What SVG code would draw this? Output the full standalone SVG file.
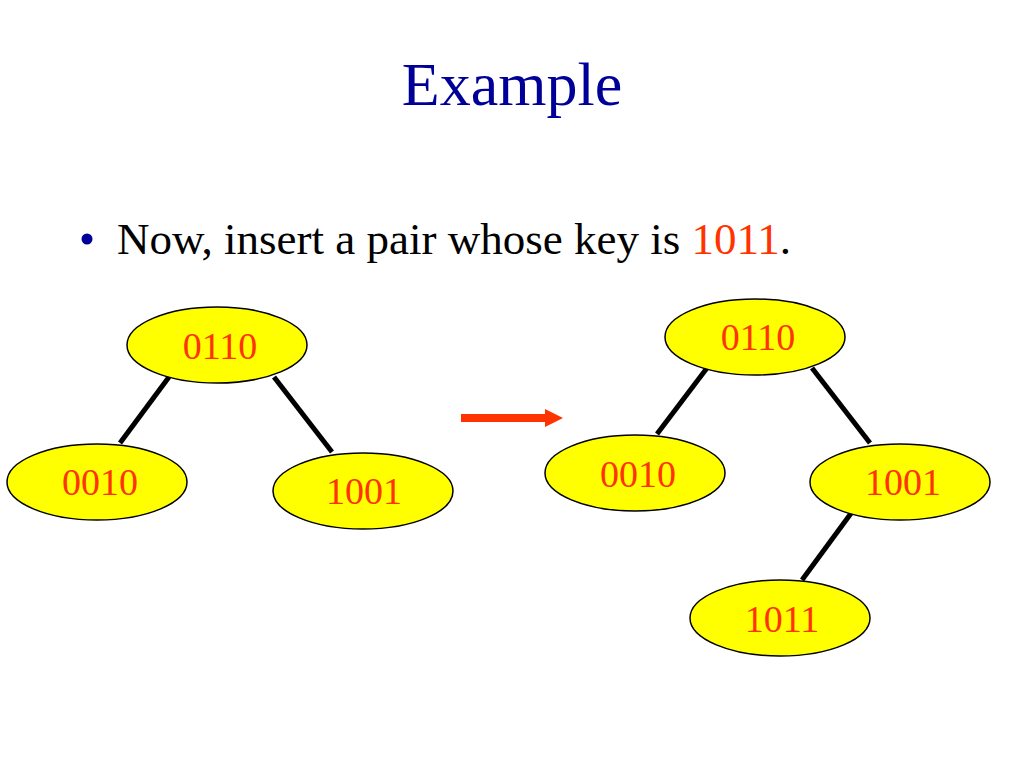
<svg xmlns="http://www.w3.org/2000/svg" width="1024" height="768" viewBox="0 0 1024 768">
<style>
.node{fill:#FFFF00;stroke:#000;stroke-width:1.5}
.lbl{font-family:"Liberation Serif","Times New Roman",serif;font-size:38px;fill:#FF3300;text-anchor:middle}
.edge{stroke:#000;stroke-width:5;fill:none}
</style>
<rect width="1024" height="768" fill="#fff"/>
<text x="512" y="105" font-family="Liberation Serif, Times New Roman, serif" font-size="62" fill="#000099" text-anchor="middle">Example</text>
<circle cx="87" cy="239" r="5.5" fill="#000099"/>
<text x="117" y="254" font-family="Liberation Serif, Times New Roman, serif" font-size="45" fill="#000">Now, insert a pair whose key is <tspan fill="#FF3300">1011</tspan>.</text>
<g id="connectors">
<line class="edge" x1="169" y1="377" x2="120" y2="443"/>
<line class="edge" x1="274" y1="377" x2="332" y2="452"/>
<line class="edge" x1="707" y1="368" x2="657" y2="434"/>
<line class="edge" x1="812" y1="368" x2="870" y2="443"/>
<line class="edge" x1="852" y1="512" x2="802" y2="580"/>
<g id="arrow"><rect x="461" y="414" width="86" height="8" fill="#FF3300"/><polygon points="545,409 563,418 545,427" fill="#FF3300"/></g>
</g>
<g id="L0110"><ellipse class="node" cx="217" cy="345" rx="90" ry="38"/><text class="lbl" x="220" y="359">0110</text></g>
<g id="L0010"><ellipse class="node" cx="97" cy="482" rx="90" ry="38"/><text class="lbl" x="100" y="495">0010</text></g>
<g id="L1001"><ellipse class="node" cx="363" cy="491" rx="90" ry="38"/><text class="lbl" x="364" y="504">1001</text></g>
<g id="R0110"><ellipse class="node" cx="755" cy="337" rx="90" ry="38"/><text class="lbl" x="758" y="350">0110</text></g>
<g id="R0010"><ellipse class="node" cx="635" cy="473" rx="90" ry="38"/><text class="lbl" x="638" y="487">0010</text></g>
<g id="R1001"><ellipse class="node" cx="900" cy="482" rx="90" ry="38"/><text class="lbl" x="903" y="495">1001</text></g>
<g id="R1011"><ellipse class="node" cx="780" cy="618" rx="90" ry="38"/><text class="lbl" x="782" y="632">1011</text></g>
</svg>
